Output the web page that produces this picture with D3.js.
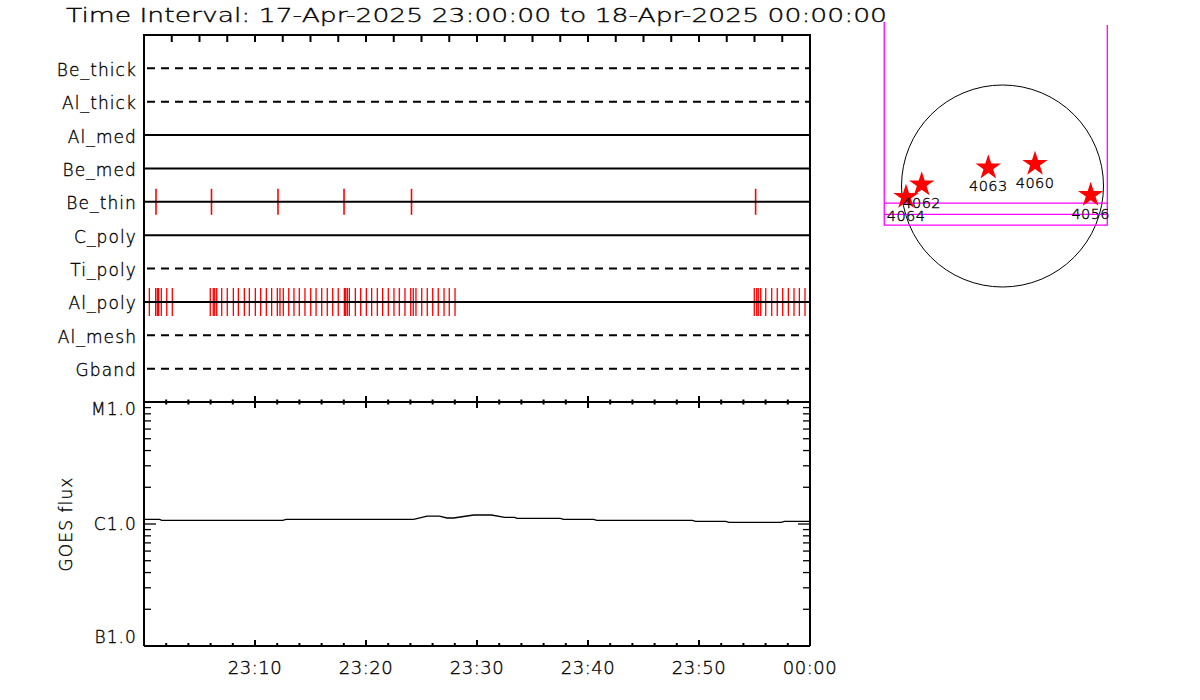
<!DOCTYPE html>
<html><head><meta charset="utf-8">
<script src="https://cdn.jsdelivr.net/npm/d3@7"></script>
<style>
body{margin:0;background:#fff}
svg{display:block}
text{font-family:"DejaVu Sans",sans-serif;font-weight:200;fill:#000;stroke:#000;stroke-width:0.35px}
</style></head><body>
<svg id="c" width="1200" height="700"></svg>
<script>
// ---------- data ----------
const title = "Time Interval: 17-Apr-2025 23:00:00 to 18-Apr-2025 00:00:00";
const channels = ["Be_thick","Al_thick","Al_med","Be_med","Be_thin","C_poly","Ti_poly","Al_poly","Al_mesh","Gband"];
// event times, minutes after 23:00
const beThinTimes = [1.08, 6.08, 12.07, 18.02, 24.1, 55.1];
const alPolyTimes = [0.48,1.05,1.2,1.32,1.56,2.05,2.55,
  5.97,6.24,6.37,6.55,7.0,7.5,8.05,8.5,9.04,9.49,10.03,10.51,11.02,11.5,12.01,12.25,12.55,13.04,13.51,13.99,
  14.5,15.02,15.5,16.01,16.51,17.0,17.5,18.05,18.17,18.32,18.5,19.04,19.52,20.03,20.51,21.02,21.5,22.01,22.52,
  23.0,23.51,24.03,24.26,24.5,25.02,25.52,26.01,26.51,27.03,27.5,28.02,
  54.98,55.2,55.34,55.56,56.01,56.55,57.05,57.54,58.05,58.56,59.04,59.55,60.0];
// GOES flux (units of 1e-6 W/m^2) vs minutes after 23:00
const goesTimes = [0,1.4,1.6,12.5,12.8,24.3,25.5,26.6,27.3,27.9,29.7,31.3,32.5,33.4,33.6,37.5,37.8,40.5,40.8,49.4,49.7,52.4,52.7,57.4,57.7,60];
const goesFlux  = [1.09,1.09,1.07,1.07,1.09,1.09,1.16,1.16,1.12,1.12,1.185,1.185,1.135,1.135,1.114,1.114,1.09,1.09,1.07,1.07,1.052,1.052,1.033,1.033,1.052,1.052];
const timeTickMinutes = [10,20,30,40,50,60];
const timeTickLabels = ["23:10","23:20","23:30","23:40","23:50","00:00"];
const fluxTickValues = [1e-7,1e-6,1e-5];
const fluxTickLabels = ["B1.0","C1.0","M1.0"];
// active regions (arcsec from disk centre)
const arNumbers = ["4064","4062","4063","4060","4056"];
const arX = [-917,-768,-135,309,838];
const arY = [-105,14,175,209,-86];
const fovX = [-1124, 996];
const fovY = [-371, -269, -162, 1560];

// ---------- layout ----------
const svg = d3.select("#c");
const L=144, R=810, T1=35, B1=402, B2=646;
const x = d3.scaleLinear().domain([0,60]).range([L,R]);
const yCh = d3.scalePoint().domain(channels).range([T1,B1]).padding(1);
const yF = d3.scaleLog().domain([1e-7,1e-5]).range([B2,B1]);
const dashed = new Set(["Be_thick","Al_thick","Ti_poly","Al_mesh","Gband"]);

svg.append("text").attr("x",66).attr("y",22).attr("font-size",20)
  .attr("textLength",821).attr("lengthAdjust","spacingAndGlyphs").text(title);

// red event marks
const marks = svg.append("g").attr("stroke","#ff0000");
marks.selectAll(".bt").data(beThinTimes).join("line")
  .attr("x1",d=>x(d)).attr("x2",d=>x(d))
  .attr("y1",yCh("Be_thin")-13).attr("y2",yCh("Be_thin")+13).attr("stroke-width",1.6);
marks.selectAll(".ap").data(alPolyTimes).join("line")
  .attr("x1",d=>x(d)).attr("x2",d=>x(d))
  .attr("y1",yCh("Al_poly")-14).attr("y2",yCh("Al_poly")+14).attr("stroke-width",1.3);

// channel lines
svg.append("g").selectAll("line").data(channels).join("line")
  .attr("x1",L).attr("x2",R).attr("y1",d=>yCh(d)).attr("y2",d=>yCh(d))
  .attr("stroke","#000").attr("stroke-width",2)
  .attr("stroke-dasharray",d=>dashed.has(d)?"8,6":null)
  .attr("stroke-dashoffset",d=>dashed.has(d)?-3:null);

// channel labels
svg.append("g").selectAll("text").data(channels).join("text")
  .attr("x",137).attr("y",d=>yCh(d)+7.5).attr("text-anchor","end")
  .attr("font-size",17).attr("letter-spacing",1.1).text(d=>d);

// frames
const frame = svg.append("g").attr("stroke","#000").attr("stroke-width",2).attr("fill","none");
frame.append("path").attr("d",`M${L},${B2}V${T1}H${R}V${B2}`);
frame.append("path").attr("d",`M${L},${B1}H${R}M${L},${B2}H${R}`);

const minor2 = d3.range(0,61,2);
const minor25 = d3.range(0,60.1,2.5);
const major10 = d3.range(0,61,10);
const tk = svg.append("g").attr("stroke","#000").attr("stroke-width",2);
tk.selectAll(".t1").data(minor25).join("line")
  .attr("x1",d=>x(d)).attr("x2",d=>x(d)).attr("y1",T1).attr("y2",T1+7);
tk.selectAll(".t2").data(minor2).join("line")
  .attr("x1",d=>x(d)).attr("x2",d=>x(d)).attr("y1",B1-2.5).attr("y2",B1+2.5);
tk.selectAll(".t3").data(major10).join("line")
  .attr("x1",d=>x(d)).attr("x2",d=>x(d)).attr("y1",B1-6).attr("y2",B1+6);
tk.selectAll(".t4").data(minor2).join("line")
  .attr("x1",d=>x(d)).attr("x2",d=>x(d)).attr("y1",B2).attr("y2",B2-3);
tk.selectAll(".t5").data(major10).join("line")
  .attr("x1",d=>x(d)).attr("x2",d=>x(d)).attr("y1",B2).attr("y2",B2-6);

// bottom time labels
svg.append("g").selectAll("text").data(timeTickMinutes).join("text")
  .attr("x",d=>x(d)).attr("y",674).attr("text-anchor","middle")
  .attr("font-size",18).attr("letter-spacing",0.5).text((d,i)=>timeTickLabels[i]);

// log flux ticks
const fMinor = yF.ticks();
const yt = svg.append("g").attr("stroke","#000").attr("stroke-width",1.3);
yt.selectAll(".l").data(fMinor).join("line")
  .attr("x1",L).attr("x2",d=>L+(fluxTickValues.includes(d)?12:7)).attr("y1",d=>yF(d)).attr("y2",d=>yF(d));
yt.selectAll(".r").data(fMinor).join("line")
  .attr("x1",R).attr("x2",d=>R-(fluxTickValues.includes(d)?12:7)).attr("y1",d=>yF(d)).attr("y2",d=>yF(d));
const fLabOff = [-3, 6, 13];
svg.append("g").selectAll("text").data(fluxTickValues).join("text")
  .attr("x",137).attr("y",(d,i)=>yF(d)+fLabOff[i]).attr("text-anchor","end")
  .attr("font-size",17).attr("letter-spacing",1.1).text((d,i)=>fluxTickLabels[i]);

svg.append("text").attr("transform",`translate(72,${yF(1e-6)}) rotate(-90)`)
  .attr("text-anchor","middle").attr("font-size",17).attr("letter-spacing",1.1).text("GOES flux");

// GOES curve
const goes = goesTimes.map((t,i)=>({t, f: goesFlux[i]*1e-6}));
svg.append("path").datum(goes)
  .attr("d", d3.line().x(d=>x(d.t)).y(d=>yF(d.f)))
  .attr("fill","none").attr("stroke","#000").attr("stroke-width",1.3);

// ---------- solar disk panel ----------
const cx=1002.5, cy=186, pr=101;
const sx = d3.scaleLinear().domain([-960,960]).range([cx-pr,cx+pr]);
const sy = d3.scaleLinear().domain([-960,960]).range([cy+pr,cy-pr]);
svg.append("circle").attr("cx",sx(0)).attr("cy",sy(0)).attr("r",sx(960)-sx(0))
  .attr("fill","none").attr("stroke","#000").attr("stroke-width",1);
const fov = svg.append("g").attr("stroke","#ff00ff").attr("stroke-width",1.3).attr("fill","none");
fov.append("path").attr("d",
  `M${sx(fovX[0])},${sy(fovY[3])}V${sy(fovY[0])}H${sx(fovX[1])}V${sy(fovY[3])+3}`);
fov.append("path").attr("d",
  `M${sx(fovX[0])},${sy(fovY[1])}H${sx(fovX[1])}M${sx(fovX[0])},${sy(fovY[2])}H${sx(fovX[1])}`);
const star = d3.symbol(d3.symbolStar).size(200);
svg.append("g").selectAll("path").data(arNumbers).join("path")
  .attr("transform",(d,i)=>`translate(${sx(arX[i])},${sy(arY[i])})`)
  .attr("d",star).attr("fill","#ff0000");
svg.append("g").selectAll("text").data(arNumbers).join("text")
  .attr("x",(d,i)=>sx(arX[i])).attr("y",(d,i)=>sy(arY[i])+23.5)
  .attr("text-anchor","middle").attr("font-size",14.5).attr("letter-spacing",0.4).text(d=>d);
</script></body></html>
